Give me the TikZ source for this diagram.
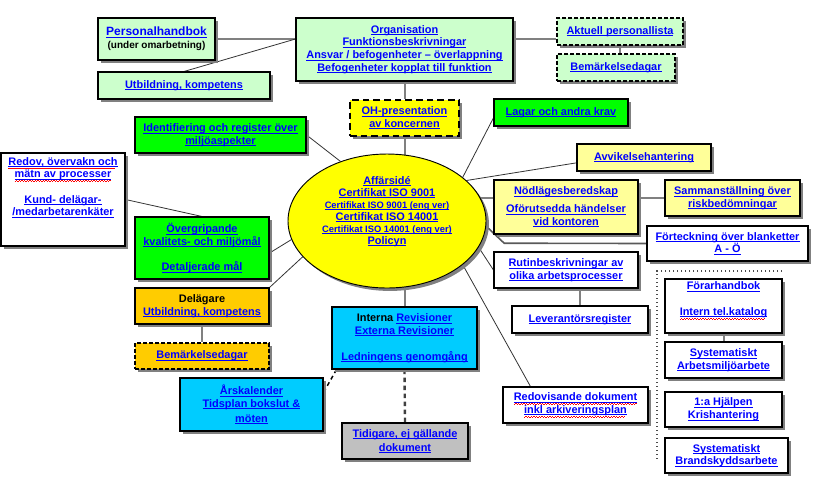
\documentclass[tikz,border=0pt]{standalone}
\usepackage{fontspec}
\setmainfont{Liberation Sans}
\usetikzlibrary{shapes.geometric,shadows,backgrounds,positioning}
\definecolor{linkblue}{HTML}{0000FF}
\definecolor{boxmint}{HTML}{CCFFCC}
\definecolor{boxgreen}{HTML}{00FF00}
\definecolor{boxyellow}{HTML}{FFFF00}
\definecolor{boxcream}{HTML}{FFFF99}
\definecolor{boxamber}{HTML}{FFCC00}
\definecolor{boxsky}{HTML}{00CCFF}
\definecolor{boxsilver}{HTML}{C0C0C0}
\definecolor{shade}{HTML}{808080}
\newsavebox\lnkbox
\newcommand\lnk[1]{\sbox\lnkbox{#1}\rlap{\rule[-1.4pt]{\wd\lnkbox}{0.6pt}}\usebox\lnkbox}
\newcommand\lnkw[1]{\sbox\lnkbox{#1}\rlap{\rule[-1.4pt]{\wd\lnkbox}{0.6pt}}%
    \rlap{\color{red}\hbox to \wd\lnkbox{\leaders\hbox to 2pt{\rule[-2.9pt]{1pt}{0.5pt}\rule[-2.4pt]{1pt}{0.5pt}}\hfill}}\usebox\lnkbox}
\newcommand\smalltxt{\fontsize{7}{8.5}\selectfont}
\tikzset{
    box/.style={draw, line width=0.8pt, align=center, inner sep=2pt, text=linkblue,
        font=\bfseries\fontsize{8.2}{9.5}\selectfont,
        drop shadow={shadow xshift=2.2pt, shadow yshift=-2.2pt, fill=shade, opacity=1}},
    sz/.style 2 args={minimum width=#1*0.75pt, minimum height=#2*0.75pt},
    mintbox/.style={box, fill=boxmint},
    greenbox/.style={box, fill=boxgreen},
    creambox/.style={box, fill=boxcream},
    whitebox/.style={box, fill=white},
    amberbox/.style={box, fill=boxamber},
    skybox/.style={box, fill=boxsky},
    silverbox/.style={box, fill=boxsilver},
    ohbox/.style={box, fill=boxyellow, line width=1.8pt, dash pattern=on 5pt off 3pt},
    dashbox/.style={dash pattern=on 3pt off 1.5pt},
    grayline/.style={draw=shade, line width=1.5pt},
    darkline/.style={draw=black!65, line width=1.2pt},
    thinline/.style={draw=black!80, line width=0.6pt},
    revdash/.style={draw=black, line width=1.1pt, dash pattern=on 3pt off 2.5pt},
    olddash/.style={draw=black!75, line width=1.8pt, dash pattern=on 3.5pt off 2.5pt}
}
\begin{document}
\begin{tikzpicture}[x=0.75pt,y=-0.75pt]
    \useasboundingbox (0,0) rectangle (813,480);
    \node[mintbox, sz={117}{42}] (perh) at (156.5,39) {{\fontsize{9}{11}\selectfont\lnk{Personalhandbok}}\\{\fontsize{7.5}{9}\selectfont\color{black}(under omarbetning)}};
    \node[mintbox, sz={172}{27}] (utbt) at (184,85.5) {\lnk{Utbildning, kompetens}};
    \node[mintbox, sz={217}{63}] (org) at (404.5,49.5) {\lnk{Organisation}\\\lnk{Funktionsbeskrivningar}\\\lnk{Ansvar / befogenheter – överlappning}\\\lnk{Befogenheter kopplat till funktion}};
    \node[mintbox, dashbox, sz={126}{27}] (aktu) at (620,31.5) {\lnk{Aktuell personallista}};
    \node[mintbox, dashbox, sz={118}{27}] (bemt) at (616,67.5) {\lnk{Bemärkelsedagar}};
    \node[ohbox, sz={109}{36}] (oh) at (404.5,118) {\lnk{OH-presentation}\\\lnk{av koncernen}};
    \node[greenbox, sz={134}{27}] (lagar) at (561,112.5) {\lnk{Lagar och andra krav}};
    \node[greenbox, sz={171}{36}] (ident) at (220.5,135) {\lnk{Identifiering och register över}\\\lnk{miljöaspekter}};
    \node[creambox, sz={134}{27}] (avvik) at (644,157.5) {\lnk{Avvikelsehantering}};
    \node[creambox, sz={144}{54}] (nodl) at (566,207) {\lnk{Nödlägesberedskap}\\[4pt]\lnk{Oförutsedda händelser}\\\lnk{vid kontoren}};
    \node[creambox, sz={135}{36}] (samm) at (732.5,198) {\lnk{Sammanställning över}\\\lnk{riskbedömningar}};
    \node[whitebox, sz={161}{35}] (fort) at (727.5,243.5) {\lnk{Förteckning över blanketter}\\\lnk{A - Ö}};
    \node[whitebox, sz={144}{36}] (rutin) at (566,270) {\lnk{Rutinbeskrivningar av}\\\lnk{olika arbetsprocesser}};
    \node[whitebox, sz={136}{27}] (lev) at (580,319.5) {\lnk{Leverantörsregister}};
    \node[whitebox, sz={145}{36}] (redok) at (575.5,405) {\lnkw{Redovisande dokument}\\\lnkw{inkl arkiveringsplan}};
    \node[whitebox, sz={117}{54}] (forar) at (723.5,306) {\lnk{Förarhandbok}\\[9.5pt]\lnkw{Intern tel.katalog}\\[1.5pt]\mbox{}};
    \node[whitebox, sz={117}{36}] (sysa) at (723.5,360) {\lnk{Systematiskt}\\\lnk{Arbetsmiljöarbete}};
    \node[whitebox, sz={117}{35}] (hjalp) at (723.5,409.5) {\lnk{1:a Hjälpen}\\\lnk{Krishantering}};
    \node[whitebox, sz={123}{35}] (sysb) at (726.5,455.5) {\lnk{Systematiskt}\\\lnk{Brandskyddsarbete}};
    \node[whitebox, sz={124}{93}] (redov) at (63,199.5) {\lnkw{Redov, övervakn och}\\\lnkw{mätn av processer}\\[9.5pt]\lnk{Kund- delägar-}\\\lnk{/medarbetarenkäter}\\[10pt]\mbox{}};
    \node[greenbox, sz={134}{62}] (overg) at (202,248) {\lnk{Övergripande}\\\lnk{kvalitets- och miljömål}\\[9.5pt]\lnk{Detaljerade mål}};
    \node[amberbox, sz={134}{36}] (delag) at (202,306) {\textcolor{black}{Delägare}\\\lnk{Utbildning, kompetens}};
    \node[amberbox, dashbox, sz={134}{26}] (bemb) at (202,356) {\lnk{Bemärkelsedagar}};
    \node[skybox, sz={143}{53}] (arsk) at (251.5,404.5) {\lnk{Årskalender}\\\lnk{Tidsplan bokslut \&}\\[1.5pt]\lnk{möten}};
    \node[skybox, sz={145}{62}] (intern) at (404.5,338) {\textcolor{black}{Interna} \lnk{Revisioner}\\\lnk{Externa Revisioner}\\[10pt]\lnk{Ledningens genomgång}};
    \node[silverbox, sz={126}{36}] (tidig) at (405,441) {\lnk{Tidigare, ej gällande}\\[1pt]\lnk{dokument}};
    \node[box, ellipse, fill=boxyellow, line width=0.7pt, inner sep=0pt, sz={198}{134}, font=\bfseries\fontsize{8.2}{9}\selectfont] (affar) at (387,221) {\lnk{Affärsidé}\\\lnk{Certifikat ISO 9001}\\{\smalltxt\lnk{Certifikat ISO 9001 (eng ver)}}\\\lnk{Certifikat ISO 14001}\\{\smalltxt\lnk{Certifikat ISO 14001 (eng ver)}}\\\lnk{Policyn}\\[7pt]\mbox{}};
    \begin{scope}[on background layer]
        \draw[grayline] (perh.east) -- (perh.east -| org.west);
        \draw[thinline] (utbt.north) -- (org.west |- perh.east);
        \draw[grayline] (org.east |- perh.east) -- (aktu.west |- perh.east);
        \draw[grayline] (aktu.south) -- (aktu.south |- bemt.north);
        \draw[grayline] (org.south) -- (oh.north);
        \draw[grayline] (oh.south) -- (oh.south |- affar.center);
        \draw[thinline] (ident.east) -- (affar.128);
        \draw[thinline] ([yshift=-4pt]lagar.west) -- (affar.30);
        \draw[thinline] ([yshift=-4pt]avvik.west) -- (affar.27);
        \draw[grayline] (affar.14) -- (affar.14 -| nodl.west);
        \draw[grayline] (nodl.east |- samm.west) -- (samm.west);
        \draw[darkline] (affar.-3) -- ++(18,17) -- (fort.west);
        \draw[thinline] (affar.-16) -- (rutin.west);
        \draw[thinline] (affar.-30) -- ([xshift=21pt]redok.north west);
        \draw[grayline] (rutin.south -| lev.north) -- (lev.north);
        \draw[grayline] (forar.south) -- (sysa.north);
        \draw[thinline] ([yshift=-3.75pt]overg.east) -- (affar.191);
        \draw[thinline] (delag.north east) -- (affar.203);
        \draw[thinline] (redov.east) -- (overg.north);
        \draw[grayline] (delag.south) -- (bemb.north);
        \draw[grayline] (intern.north) -- (intern.north |- affar.center);
        \draw[revdash] ([xshift=3.75pt]intern.south west) -- ([yshift=-11.25pt]arsk.north east);
        \draw[olddash] (intern.south) -- (tidig.north);
    \end{scope}
    \draw[black!70, line width=1pt, dotted] (782,271) -- (657,271) -- (657,460);
\end{tikzpicture}
\end{document}
